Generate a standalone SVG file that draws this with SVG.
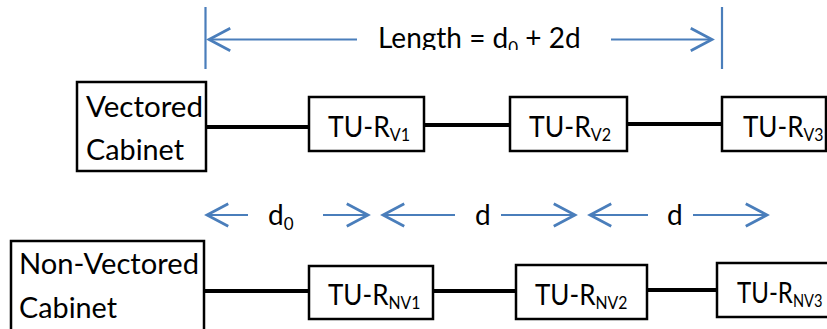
<svg xmlns="http://www.w3.org/2000/svg" width="827" height="329" viewBox="0 0 827 329">
<style>
.box{fill:#fff;stroke:#000;stroke-width:2.5}
.wire{stroke:#000;stroke-width:4;fill:none}
.dim{stroke:#4A7EBB;stroke-width:2.2;fill:none}
.t{font-family:Lato,"Liberation Sans",sans-serif;font-size:28px;fill:#000}
.s{font-size:17px}
</style>
<defs>
<marker id="ah" markerUnits="userSpaceOnUse" markerWidth="30" markerHeight="30" viewBox="-20 -12 24 24" refX="0" refY="0" orient="auto-start-reverse">
<path d="M-17,-9 L0,0 L-17,9" fill="none" stroke="#4A7EBB" stroke-width="2.2"/>
</marker>
<clipPath id="clipLen"><rect x="0" y="0" width="827" height="50"/></clipPath>
</defs>
<g id="connectors">
<line class="wire" x1="206" y1="127" x2="309" y2="127"/>
<line class="wire" x1="424" y1="125" x2="510" y2="125"/>
<line class="wire" x1="627" y1="124" x2="722" y2="124"/>
<line class="wire" x1="204" y1="291" x2="309" y2="291"/>
<line class="wire" x1="433" y1="291" x2="516" y2="291"/>
<line class="wire" x1="647" y1="290" x2="717" y2="290"/>
</g>
<g id="dimensions">
<line class="dim" x1="205.5" y1="7" x2="205.5" y2="69"/>
<line class="dim" x1="722" y1="7" x2="722" y2="69"/>
<line class="dim" x1="209" y1="39.5" x2="357" y2="39.5" marker-start="url(#ah)"/>
<line class="dim" x1="611" y1="39.5" x2="712" y2="39.5" marker-end="url(#ah)"/>
<text class="t" x="378" y="48" clip-path="url(#clipLen)">Length = d<tspan class="s" dy="6">0</tspan><tspan dy="-6"> + 2d</tspan></text>
<line class="dim" x1="207" y1="215" x2="248" y2="215" marker-start="url(#ah)"/>
<line class="dim" x1="323" y1="215" x2="368" y2="215" marker-end="url(#ah)"/>
<text class="t" x="268" y="225">d<tspan class="s" dy="5">0</tspan></text>
<line class="dim" x1="383" y1="215" x2="455" y2="215" marker-start="url(#ah)"/>
<line class="dim" x1="501" y1="215" x2="575" y2="215" marker-end="url(#ah)"/>
<text class="t" x="475" y="225">d</text>
<line class="dim" x1="590" y1="215" x2="648" y2="215" marker-start="url(#ah)"/>
<line class="dim" x1="693" y1="215" x2="767" y2="215" marker-end="url(#ah)"/>
<text class="t" x="667" y="225">d</text>
</g>
<g id="vectored-cabinet">
<rect class="box" x="77" y="82" width="129" height="89"/>
<text class="t" x="86" y="117" textLength="117" lengthAdjust="spacingAndGlyphs">Vectored</text>
<text class="t" x="86" y="160" textLength="98" lengthAdjust="spacingAndGlyphs">Cabinet</text>
</g>
<g id="tu-rv1">
<rect class="box" x="309" y="97" width="115" height="54"/>
<text class="t" transform="translate(328,137) scale(0.95,1)">TU-R<tspan class="s" dy="4">V1</tspan></text>
</g>
<g id="tu-rv2">
<rect class="box" x="510" y="97" width="117" height="54"/>
<text class="t" transform="translate(529,137) scale(0.95,1)">TU-R<tspan class="s" dy="4">V2</tspan></text>
</g>
<g id="tu-rv3">
<rect class="box" x="722" y="97" width="104" height="54"/>
<text class="t" transform="translate(743,137) scale(0.93,1)">TU-R<tspan class="s" dy="4">V3</tspan></text>
</g>
<g id="non-vectored-cabinet">
<rect class="box" x="11" y="241" width="193" height="90"/>
<text class="t" x="19" y="274" textLength="180" lengthAdjust="spacingAndGlyphs">Non-Vectored</text>
<text class="t" x="19" y="318" textLength="98" lengthAdjust="spacingAndGlyphs">Cabinet</text>
</g>
<g id="tu-rnv1">
<rect class="box" x="309" y="266" width="124" height="53"/>
<text class="t" transform="translate(328,305) scale(0.93,1)">TU-R<tspan class="s" dy="4">NV1</tspan></text>
</g>
<g id="tu-rnv2">
<rect class="box" x="516" y="265" width="131" height="54"/>
<text class="t" transform="translate(535,305) scale(0.93,1)">TU-R<tspan class="s" dy="4">NV2</tspan></text>
</g>
<g id="tu-rnv3">
<rect class="box" x="717" y="263" width="112" height="54"/>
<text class="t" transform="translate(737,303) scale(0.86,1)">TU-R<tspan class="s" dy="4">NV3</tspan></text>
</g>
</svg>
